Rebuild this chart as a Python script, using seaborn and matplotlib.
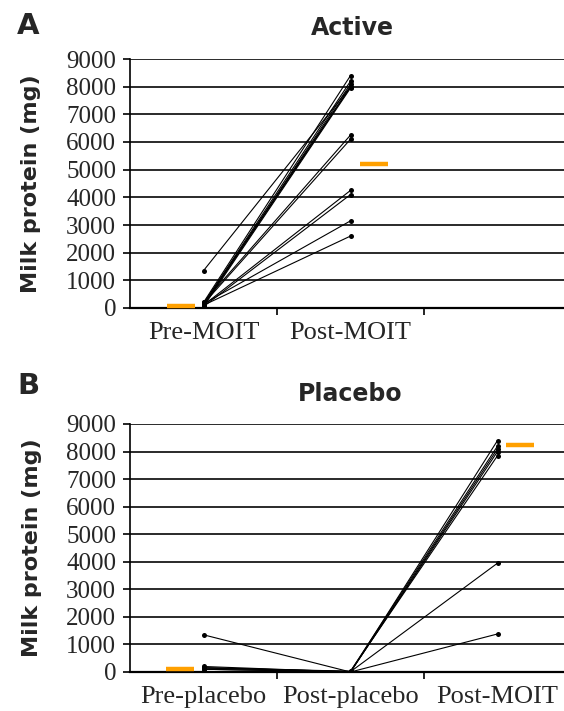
import numpy as np
import pandas as pd
import matplotlib
matplotlib.use("Agg")
import matplotlib.pyplot as plt
import seaborn as sns

# ---------------- data ----------------
active_times = ["Pre-MOIT", "Post-MOIT"]
active_pre = [1350, 200, 150, 100, 150, 50, 100, 200, 150, 100, 50, 150, 100]
active_post = [8000, 8400, 8200, 8000, 8000, 7950, 8100, 6250, 6100, 4250, 4100, 3150, 2600]
active_mean_times = ["Pre-MOIT", "Post-MOIT"]
active_mean_values = [80, 5200]

placebo_times = ["Pre-placebo", "Post-placebo", "Post-MOIT"]
placebo_pre = [1350, 200, 150, 150, 100, 150, 100]
placebo_post = [0, 0, 30, 20, 0, 10, 0]
placebo_moit = [8000, 8400, 8200, 7850, 8100, 3950, 1380]
placebo_mean_times = ["Pre-placebo", "Post-MOIT"]
placebo_mean_values = [120, 8230]

y_ticks = [0, 1000, 2000, 3000, 4000, 5000, 6000, 7000, 8000, 9000]
y_label = "Milk protein (mg)"

# ---------------- style ----------------
sns.set_style("white")
plt.rcParams["font.family"] = ["DejaVu Sans"]

W, H = 564, 711
fig = plt.figure(figsize=(W / 100, H / 100), dpi=100)

ORANGE = "#FFA000"
SLOT = 147.0
LEFT = 130.0


def long_df(times, series):
    rows = []
    for j, (t, vals) in enumerate(zip(times, series)):
        for i, v in enumerate(vals):
            rows.append({"subject": i, "time": t, "pos": j, "protein": v})
    return pd.DataFrame(rows)


def draw_panel(ax, times, series, mean_times, mean_values, offsets):
    df = long_df(times, series)
    sns.lineplot(data=df, x="pos", y="protein", units="subject", estimator=None,
                 color="black", linewidth=0.8, marker="o", markersize=3.6,
                 markeredgewidth=0, ax=ax, legend=False, zorder=3)
    mdf = pd.DataFrame({"time": mean_times, "protein": mean_values})
    mdf["pos"] = [times.index(t) + o for t, o in zip(mean_times, offsets)]
    sns.scatterplot(data=mdf, x="pos", y="protein", marker="_", s=400,
                    linewidth=3.2, color=ORANGE, ax=ax, legend=False, zorder=4)
    ax.set_xlim(-0.5, 3.0)
    ax.set_ylim(0, 9000)
    ax.set_yticks(y_ticks)
    ax.set_yticklabels([str(v) for v in y_ticks], family="Liberation Serif", fontsize=18)
    ax.set_xticks(range(len(times)))
    ax.set_xticklabels(times, family="Liberation Serif", fontsize=19)
    ax.set_xticks([k + 0.5 for k in range(len(times))], minor=True)
    ax.tick_params(axis="x", which="major", length=0, pad=10)
    ax.tick_params(axis="x", which="minor", length=5, width=1.2, color="black",
                   direction="out", bottom=True)
    ax.tick_params(axis="y", length=5, width=1.2, color="black", direction="out",
                   pad=5, left=True)
    ax.yaxis.grid(True, color="#2a2a2a", linewidth=1.4)
    ax.xaxis.grid(False)
    ax.set_axisbelow(True)
    for s in ["top", "right"]:
        ax.spines[s].set_visible(False)
    ax.spines["left"].set_color("black")
    ax.spines["left"].set_linewidth(1.2)
    ax.spines["bottom"].set_color("black")
    ax.spines["bottom"].set_linewidth(1.6)
    ax.set_xlabel("")
    ax.set_ylabel("")


# Panel A
axA = fig.add_axes([LEFT / W, 1 - 308 / H, 3.5 * SLOT / W, 249 / H])
draw_panel(axA, active_times, [active_pre, active_post],
           active_mean_times, active_mean_values, [-0.15, 0.16])

# Panel B
axB = fig.add_axes([LEFT / W, 1 - 672 / H, 3.5 * SLOT / W, 248 / H])
draw_panel(axB, placebo_times, [placebo_pre, placebo_post, placebo_moit],
           placebo_mean_times, placebo_mean_values, [-0.16, 0.15])

# Titles, panel letters, y labels
fig.text(352 / W, 1 - 28 / H, "Active", ha="center", va="center",
         fontsize=17, fontweight="bold")
fig.text(350 / W, 1 - 394 / H, "Placebo", ha="center", va="center",
         fontsize=17, fontweight="bold")
fig.text(17 / W, 1 - 26 / H, "A", ha="left", va="center", fontsize=21, fontweight="bold")
fig.text(17 / W, 1 - 386 / H, "B", ha="left", va="center", fontsize=21, fontweight="bold")
fig.text(31 / W, 1 - 184 / H, y_label, ha="center", va="center", rotation=90,
         fontsize=16, fontweight="bold")
fig.text(32 / W, 1 - 548 / H, y_label, ha="center", va="center", rotation=90,
         fontsize=16, fontweight="bold")

fig.savefig("out.png", dpi=100)
